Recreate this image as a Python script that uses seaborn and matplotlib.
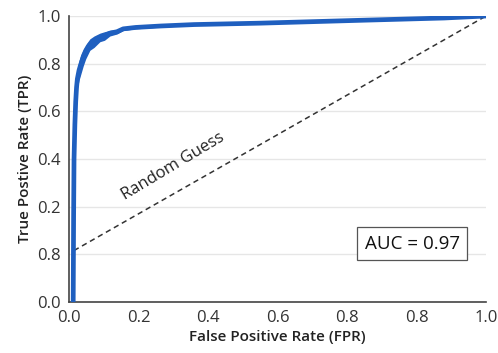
import numpy as np
import matplotlib
matplotlib.use("Agg")
import matplotlib.pyplot as plt
import seaborn as sns

# ROC curve
fpr = [0.010, 0.011, 0.012, 0.014, 0.016, 0.018, 0.020, 0.024, 0.028, 0.034, 0.040, 0.050,
       0.060, 0.074, 0.085, 0.098, 0.115, 0.130, 0.160, 0.220, 0.300, 0.460, 0.700, 0.900, 1.000]
tpr = [0.000, 0.300, 0.500, 0.620, 0.700, 0.750, 0.780, 0.810, 0.830, 0.855, 0.875, 0.900,
       0.910, 0.925, 0.930, 0.940, 0.945, 0.955, 0.960, 0.965, 0.970, 0.975, 0.985, 0.993, 1.000]
band = [0.0, 0.0, 0.005, 0.01, 0.02, 0.03, 0.035, 0.035, 0.035, 0.03, 0.025, 0.02,
        0.02, 0.015, 0.015, 0.01, 0.008, 0.006, 0.005, 0.004, 0.003, 0.003, 0.002, 0.002, 0.0]

guess_x = [0.012, 1.0]
guess_y = [0.18, 1.0]

tick_pos = np.linspace(0, 1, 7)
x_labels = ["0.0", "0.2", "0.4", "0.6", "0.8", "0.8", "1.0"]
y_labels = ["0.0", "0.8", "0.2", "0.4", "0.6", "0.8", "1.0"]

sns.set_style("white")
plt.rcParams['font.family'] = ['Open Sans', 'DejaVu Sans']

blue = "#1f5fbf"
fig = plt.figure(figsize=(4.98, 3.53), dpi=100)
ax = fig.add_axes([0.1386, 0.1445, 0.976 - 0.1386, 0.9547 - 0.1445])

lo = np.array(tpr) - np.array(band)
hi = np.minimum(np.array(tpr) + np.array(band), 1.0)
ax.fill_between(fpr, lo, hi, color=blue, lw=0, zorder=3)
sns.lineplot(x=fpr, y=tpr, sort=False, color=blue, linewidth=3.4, ax=ax, zorder=4)
sns.lineplot(x=guess_x, y=guess_y, sort=False, color="#333333", linewidth=1.1,
             linestyle=(0, (3.5, 2.5)), ax=ax, zorder=2)

ax.text(0.25, 0.475, "Random Guess", rotation=31, ha="center", va="center",
        fontsize=12, color="#222222")
ax.text(0.823, 0.203, "AUC = 0.97", ha="center", va="center", fontsize=13.5,
        color="#111111",
        bbox=dict(boxstyle="square,pad=0.4", fc="white", ec="#555555", lw=0.9))

ax.set_xlim(0, 1)
ax.set_ylim(0, 1)
ax.set_xticks(tick_pos)
ax.set_xticklabels(x_labels)
ax.set_yticks(tick_pos)
ax.set_yticklabels(y_labels)
ax.tick_params(axis="both", labelsize=12, colors="#444444", length=3, width=1,
               direction="out", pad=3)
ax.tick_params(axis="both", labelcolor="#333333")
ax.grid(axis="y", color="#e6e6e6", linewidth=1)
ax.set_axisbelow(True)
for s in ["top", "right"]:
    ax.spines[s].set_visible(False)
for s in ["left", "bottom"]:
    ax.spines[s].set_color("#444444")
    ax.spines[s].set_linewidth(1.2)

ax.set_xlabel("False Positive Rate (FPR)", fontsize=11, fontweight="semibold",
              color="#222222", labelpad=3)
ax.set_ylabel("True Postive Rate (TPR)", fontsize=11, fontweight="semibold",
              color="#222222", labelpad=4)

fig.savefig("out.png", dpi=100)
